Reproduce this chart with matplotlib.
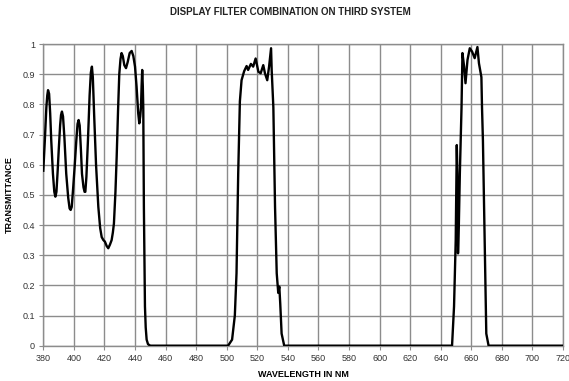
import matplotlib
matplotlib.use('Agg')
import matplotlib.pyplot as plt
from matplotlib.ticker import FormatStrFormatter

plt.rcParams['font.family'] = ['Liberation Sans', 'DejaVu Sans']

# readings (nm, transmittance)
wavelength = [380, 381, 382, 382.6, 383.1, 383.8, 384.5, 385.2, 386.3, 387.2, 387.9, 388.6,
              389.4, 390.1, 391, 391.6, 392.2, 392.9, 393.8, 395, 396.3, 397.2, 397.9, 398.6,
              399.5, 400.5, 401.6, 402.4, 403.1, 403.8, 404.6, 405.3, 406.3, 407, 407.5, 408.2,
              409.2, 410.3, 411.1, 411.8, 412.4, 413.3, 414.5, 416, 417.2, 418.2, 419.3, 420.3,
              421.5, 422.5, 423.6, 424.7, 425.5, 426.2, 427.2, 428, 428.9, 429.7, 430.5, 431.2,
              432, 433, 434.1, 435.2, 436.5, 437.8, 438.9, 440, 441, 442.1, 442.8, 443.4,
              443.9, 444.3, 444.7, 445.1, 445.4, 445.8, 446.5, 447, 447.6, 448.5, 450,
              500.9, 503.5, 505.3, 506.4, 507.5, 508.6, 509.7, 511.4, 513, 514, 515.8, 517.3,
              518.9, 520.7, 522.2, 523.9, 525, 526.5, 527.7, 529, 529.4, 530.5, 531.6, 532.7,
              533.7, 534.4, 535, 535.9, 537.6,
              647.4, 648.7, 649.8, 650.5, 650.9, 651.3, 651.8, 652.5, 653.6, 654.2, 655.3,
              656.2, 657.5, 659, 660.5, 662.2, 664, 665, 666.6, 667, 667.6, 668.7, 669.8,
              671.3, 720]
transmittance = [0.58, 0.68, 0.79, 0.83, 0.847, 0.835, 0.77, 0.68, 0.57, 0.51, 0.494, 0.51,
                 0.58, 0.65, 0.73, 0.765, 0.776, 0.76, 0.69, 0.57, 0.49, 0.455, 0.45, 0.46,
                 0.52, 0.593, 0.68, 0.735, 0.748, 0.73, 0.65, 0.57, 0.525, 0.51, 0.51, 0.56,
                 0.68, 0.83, 0.905, 0.925, 0.89, 0.76, 0.6, 0.46, 0.39, 0.36, 0.35, 0.345,
                 0.33, 0.323, 0.335, 0.35, 0.375, 0.405, 0.51, 0.626, 0.78, 0.90, 0.95, 0.97,
                 0.96, 0.93, 0.92, 0.94, 0.97, 0.977, 0.96, 0.925, 0.86, 0.77, 0.737, 0.76,
                 0.79, 0.86, 0.914, 0.86, 0.79, 0.46, 0.13, 0.06, 0.02, 0.005, 0.0,
                 0.0, 0.02, 0.1, 0.24, 0.57, 0.81, 0.88, 0.91, 0.927, 0.914, 0.934, 0.925,
                 0.952, 0.908, 0.903, 0.93, 0.903, 0.88, 0.925, 0.986, 0.914, 0.79, 0.46, 0.24,
                 0.175, 0.196, 0.14, 0.04, 0.0,
                 0.0, 0.13, 0.35, 0.665, 0.57, 0.306, 0.39, 0.57, 0.79, 0.97, 0.925,
                 0.87, 0.947, 0.986, 0.975, 0.953, 0.99, 0.936, 0.89, 0.79, 0.68, 0.35, 0.04,
                 0.0, 0.0]

x_ticks = list(range(380, 721, 20))
y_ticks = [i / 10 for i in range(11)]

fig = plt.figure(figsize=(5.69, 3.81), dpi=100)
ax = fig.add_axes([0.0761, 0.0927, 0.9134, 0.7918])

ax.plot(wavelength, transmittance, color='black', lw=1.7, zorder=3)

ax.set_xlim(380, 720)
ax.set_ylim(0, 1)
ax.set_xticks(x_ticks)
ax.set_yticks(y_ticks)
ax.yaxis.set_major_formatter(FormatStrFormatter('%g'))
ax.grid(True, color='#8c8c8c', lw=1.0)
ax.set_axisbelow(True)
for s in ax.spines.values():
    s.set_color('#8c8c8c')
    s.set_linewidth(1.0)
ax.tick_params(direction='out', length=3, width=0.8, color='#8c8c8c',
               labelsize=6.5, labelcolor='#333333', pad=3)

ax.set_xlabel('WAVELENGTH IN NM', fontsize=6.5, fontweight='bold', labelpad=5)
ax.set_ylabel('TRANSMITTANCE', fontsize=6.5, fontweight='bold', labelpad=6)
fig.text(0.51, 0.968, 'DISPLAY FILTER COMBINATION ON THIRD SYSTEM', ha='center', va='center',
         fontsize=7, fontweight='bold', color='#222222')

fig.savefig('out.png', dpi=100)
